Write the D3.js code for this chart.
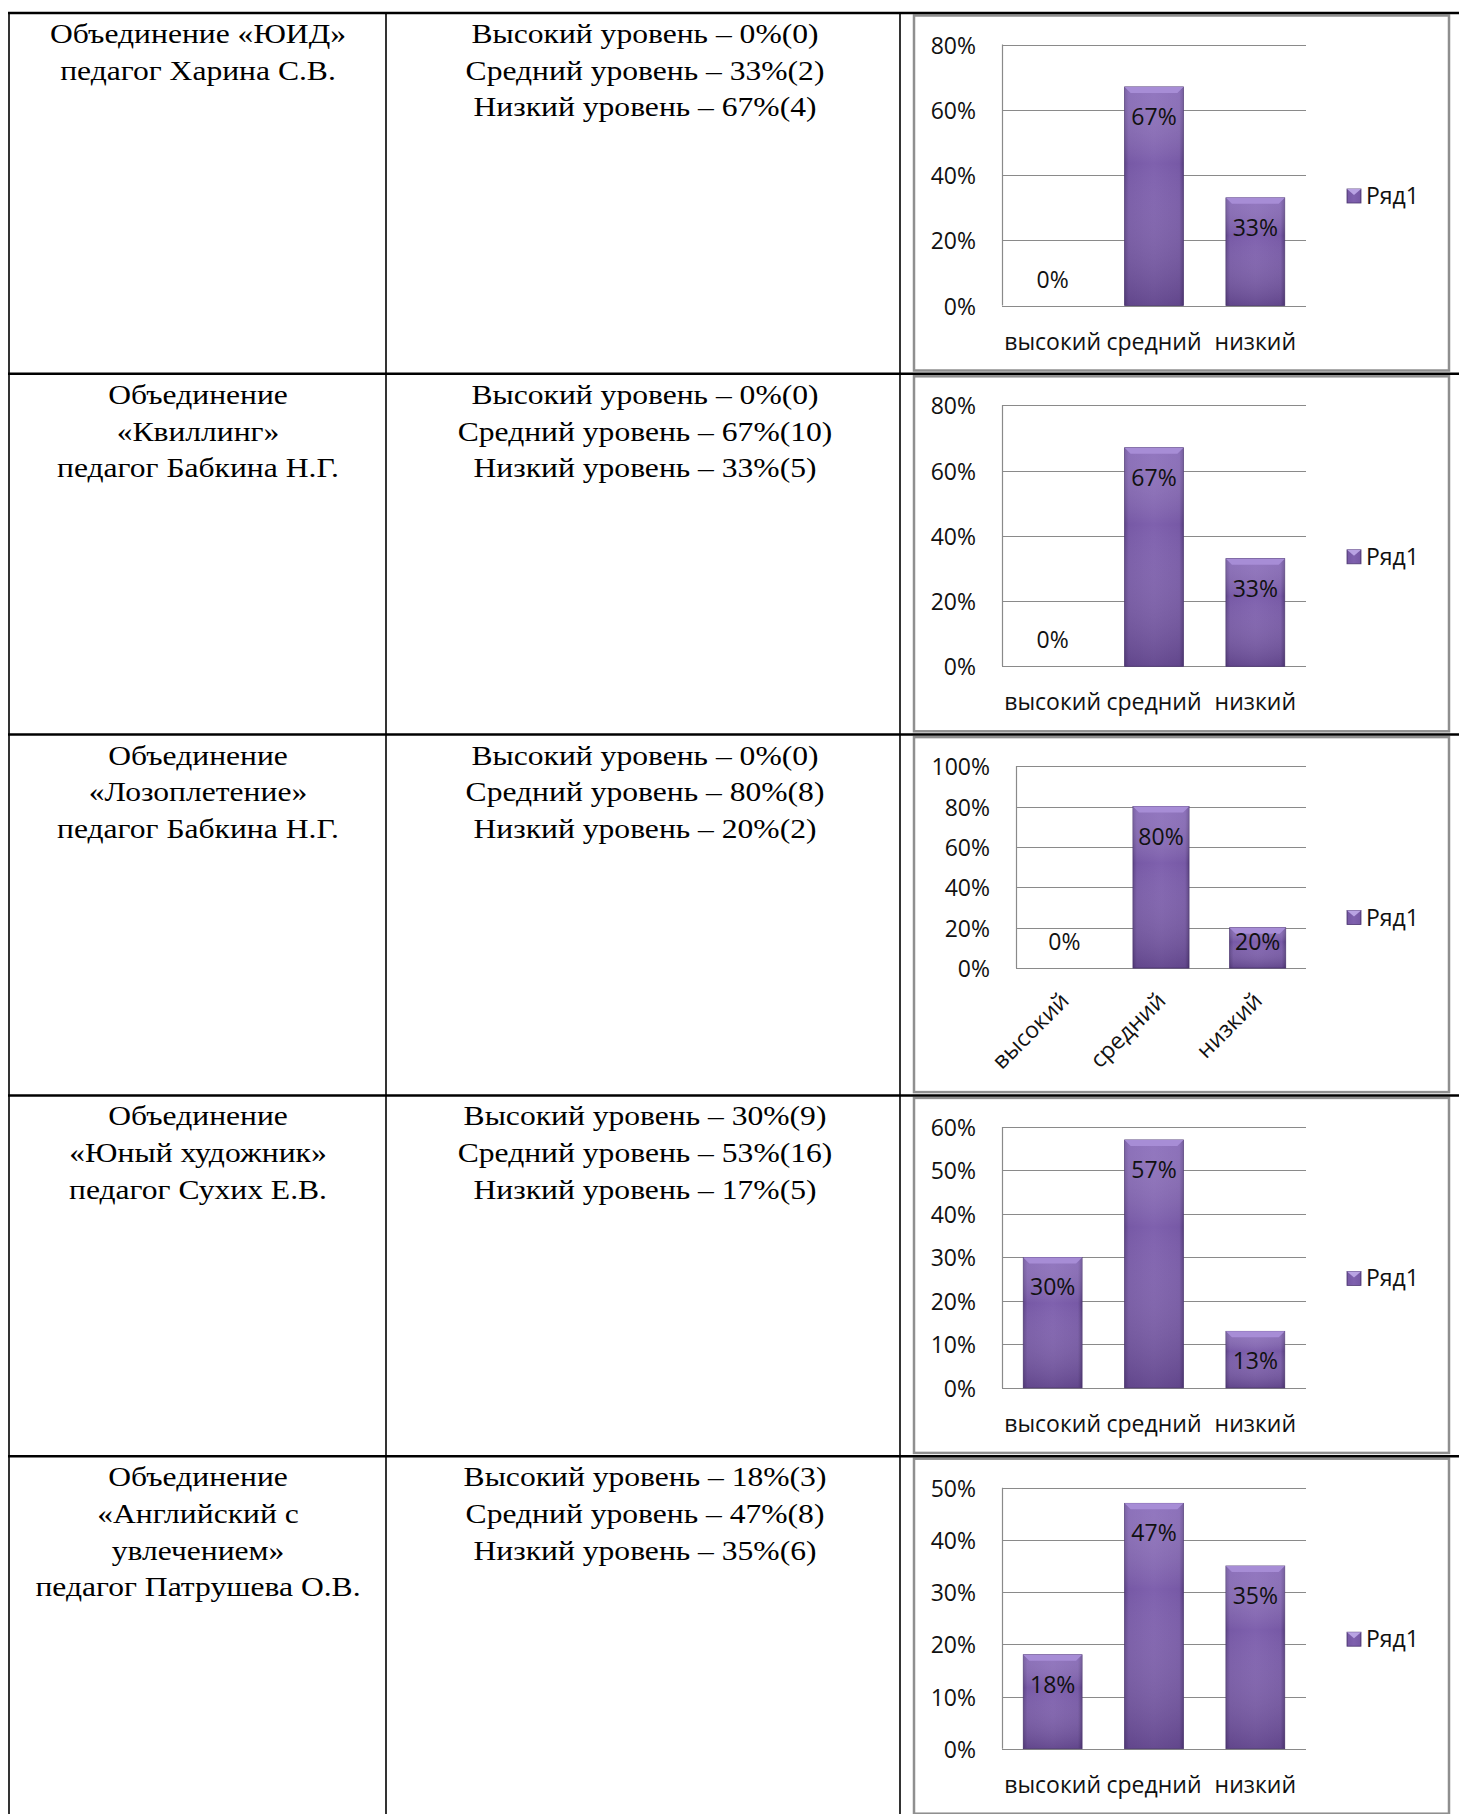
<!DOCTYPE html>
<html>
<head>
<meta charset="utf-8">
<script src="https://cdn.jsdelivr.net/npm/d3@7"></script>
<style>
  body { margin: 0; background: #fff; }
  svg { display: block; }
</style>
</head>
<body>
<svg id="chart"></svg>
<script>
// table contents
const nameLines = [
  ['Объединение «ЮИД»', 'педагог Харина С.В.'],
  ['Объединение', '«Квиллинг»', 'педагог Бабкина Н.Г.'],
  ['Объединение', '«Лозоплетение»', 'педагог Бабкина Н.Г.'],
  ['Объединение', '«Юный художник»', 'педагог Сухих Е.В.'],
  ['Объединение', '«Английский с', 'увлечением»', 'педагог Патрушева О.В.']
];
const levelNames = ['Высокий уровень', 'Средний уровень', 'Низкий уровень'];
const levelPercents = [[0, 33, 67], [0, 67, 33], [0, 80, 20], [30, 53, 17], [18, 47, 35]];
const levelCounts = [[0, 2, 4], [0, 10, 5], [0, 8, 2], [9, 16, 5], [3, 8, 6]];

// chart contents
const categories = ['высокий', 'средний', 'низкий'];
const chartValues = [
  [0, 0.67, 0.33],
  [0, 0.67, 0.33],
  [0, 0.80, 0.20],
  [0.30, 0.57, 0.13],
  [0.18, 0.47, 0.35]
];
const axisMax = [0.8, 0.8, 1.0, 0.6, 0.5];
const axisStep = [0.2, 0.2, 0.2, 0.1, 0.1];
const rotatedLabels = [false, false, true, false, false];
const seriesName = 'Ряд1';

const W = 1459, H = 1814;
const rowH = 360.8, firstRow = 13;
const col1 = 198, col2 = 645;
const stretch = 1.17;

const svg = d3.select('#chart').attr('width', W).attr('height', H);

const defs = svg.append('defs');
let hg = defs.append('linearGradient').attr('id', 'barH').attr('x1', 0).attr('x2', 1).attr('y1', 0).attr('y2', 0);
[['0%', '#5e4588'], ['7%', '#7759a6'], ['50%', '#7f61ae'], ['93%', '#7759a6'], ['100%', '#583f7f']]
  .forEach(s => hg.append('stop').attr('offset', s[0]).attr('stop-color', s[1]));
let vg = defs.append('linearGradient').attr('id', 'barV').attr('x1', 0).attr('x2', 0).attr('y1', 0).attr('y2', 1);
vg.append('stop').attr('offset', '0%').attr('stop-color', '#b39ce0').attr('stop-opacity', 0.35);
vg.append('stop').attr('offset', '35%').attr('stop-color', '#ffffff').attr('stop-opacity', 0);
vg.append('stop').attr('offset', '100%').attr('stop-color', '#2a1547').attr('stop-opacity', 0.28);

nameLines.forEach((lines, i) => {
  let top = firstRow + i * rowH;
  let g = svg.append('g');

  // left column
  g.selectAll('text.name')
    .data(lines)
    .enter()
    .append('text')
    .attr('class', 'name')
    .attr('transform', (d, k) => 'translate(' + col1 + ',' + (top + 30 + k * 36.7) + ') scale(' + stretch + ',1)')
    .attr('text-anchor', 'middle')
    .style('font-family', '"Liberation Serif", "Times New Roman", serif')
    .style('font-size', '27px')
    .text(d => d);

  // middle column
  g.selectAll('text.level')
    .data(levelNames)
    .enter()
    .append('text')
    .attr('class', 'level')
    .attr('transform', (d, k) => 'translate(' + col2 + ',' + (top + 30 + k * 36.7) + ') scale(' + stretch + ',1)')
    .attr('text-anchor', 'middle')
    .style('font-family', '"Liberation Serif", "Times New Roman", serif')
    .style('font-size', '27px')
    .text((d, k) => d + ' – ' + levelPercents[i][k] + '%(' + levelCounts[i][k] + ')');

  drawChart(i, top);
});

// table rules
for (let i = 0; i < 5; i++) {
  svg.append('line')
    .attr('x1', 8).attr('x2', W)
    .attr('y1', firstRow + i * rowH).attr('y2', firstRow + i * rowH)
    .attr('stroke', '#000').attr('stroke-width', 2.5);
}
[9, 386, 900].forEach(x => {
  svg.append('line')
    .attr('x1', x).attr('x2', x)
    .attr('y1', firstRow).attr('y2', H)
    .attr('stroke', '#000').attr('stroke-width', 1.6);
});

function drawChart(i, top) {
  let values = chartValues[i];
  let rotated = rotatedLabels[i];
  let g = svg.append('g');

  g.append('rect')
    .attr('x', 914).attr('y', top + 2.5)
    .attr('width', 535).attr('height', 355)
    .attr('fill', '#fff')
    .attr('stroke', '#8f8f8f')
    .attr('stroke-width', 2.5);

  let left = axisMax[i] >= 1 ? 1016 : 1002;
  let right = 1306;
  let y0 = rotated ? top + 233.5 : top + 292.5;
  let y1 = top + 31.5;

  let y = d3.scaleLinear().domain([0, axisMax[i]]).range([y0, y1]);
  let x = d3.scaleBand().domain(categories).range([left, right]).paddingInner(0.42).paddingOuter(0.21);
  let ticks = d3.range(0, axisMax[i] + axisStep[i] / 2, axisStep[i]);

  // gridlines
  g.selectAll('line.grid')
    .data(ticks)
    .enter()
    .append('line')
    .attr('class', 'grid')
    .attr('x1', left).attr('x2', right)
    .attr('y1', d => Math.round(y(d)) + 0.5).attr('y2', d => Math.round(y(d)) + 0.5)
    .attr('stroke', '#8a8a8a').attr('stroke-width', 1.2);

  g.append('line')
    .attr('x1', left + 0.5).attr('x2', left + 0.5)
    .attr('y1', y(axisMax[i])).attr('y2', y(0))
    .attr('stroke', '#8a8a8a').attr('stroke-width', 1.2);

  // y tick labels
  g.selectAll('text.tick')
    .data(ticks)
    .enter()
    .append('text')
    .attr('class', 'tick')
    .attr('x', left - 26)
    .attr('y', d => y(d) + 9)
    .attr('text-anchor', 'end')
    .style('font-family', '"Open Sans", sans-serif')
    .style('font-size', '23px')
    .attr('fill', '#111')
    .text(d => d3.format('.0%')(d));

  // bars
  let bars = g.selectAll('g.bar')
    .data(values)
    .enter()
    .append('g')
    .attr('class', 'bar');

  bars.filter(d => d > 0).each(function(d, k) {
    let b = d3.select(this);
    let c = categories[values.indexOf(d)];
    let bx = x(c), bw = x.bandwidth(), by = y(d), bh = y(0) - y(d);
    b.append('rect')
      .attr('x', bx).attr('y', by).attr('width', bw).attr('height', bh)
      .attr('fill', 'url(#barH)')
      .attr('stroke', '#4e3872').attr('stroke-width', 0.8);
    b.append('rect')
      .attr('x', bx).attr('y', by).attr('width', bw).attr('height', bh)
      .attr('fill', 'url(#barV)');
    let bev = Math.min(6, bh / 2);
    b.append('polygon')
      .attr('points', [[bx, by], [bx + bw, by], [bx + bw - bev, by + bev], [bx + bev, by + bev]].join(' '))
      .attr('fill', '#a78dd6');
  });

  // data labels
  g.selectAll('text.val')
    .data(values)
    .enter()
    .append('text')
    .attr('class', 'val')
    .attr('x', (d, k) => x(categories[k]) + x.bandwidth() / 2)
    .attr('y', d => Math.min(y(d) + 29.5, y(0) - 26.5) + 8.5)
    .attr('text-anchor', 'middle')
    .style('font-family', '"Open Sans", sans-serif')
    .style('font-size', '23px')
    .attr('fill', '#111')
    .text(d => d3.format('.0%')(d));

  // category labels
  let cat = g.selectAll('text.cat')
    .data(categories)
    .enter()
    .append('text')
    .attr('class', 'cat')
    .style('font-family', '"Open Sans", sans-serif')
    .style('font-size', '23px')
    .attr('fill', '#111')
    .text(d => d);

  if (rotated) {
    cat.attr('text-anchor', 'end')
      .attr('transform', d => 'translate(' + (x(d) + x.bandwidth() / 2 + 6) + ',' + (y(0) + 34) + ') rotate(-45)');
  } else {
    cat.attr('text-anchor', 'middle')
      .attr('x', d => x(d) + x.bandwidth() / 2)
      .attr('y', y(0) + 44);
  }

  // legend
  let ly = top + 183;
  g.append('rect')
    .attr('x', 1347).attr('y', ly - 7).attr('width', 14).attr('height', 14)
    .attr('fill', 'url(#barH)').attr('stroke', '#4e3872').attr('stroke-width', 0.8);
  g.append('polygon')
    .attr('points', [[1347, ly - 7], [1361, ly - 7], [1354, ly - 1]].join(' '))
    .attr('fill', '#b9a3e3');
  g.append('text')
    .attr('x', 1366).attr('y', ly + 8)
    .style('font-family', '"Open Sans", sans-serif')
    .style('font-size', '23px')
    .attr('fill', '#111')
    .text(seriesName);
}
</script>
</body>
</html>
